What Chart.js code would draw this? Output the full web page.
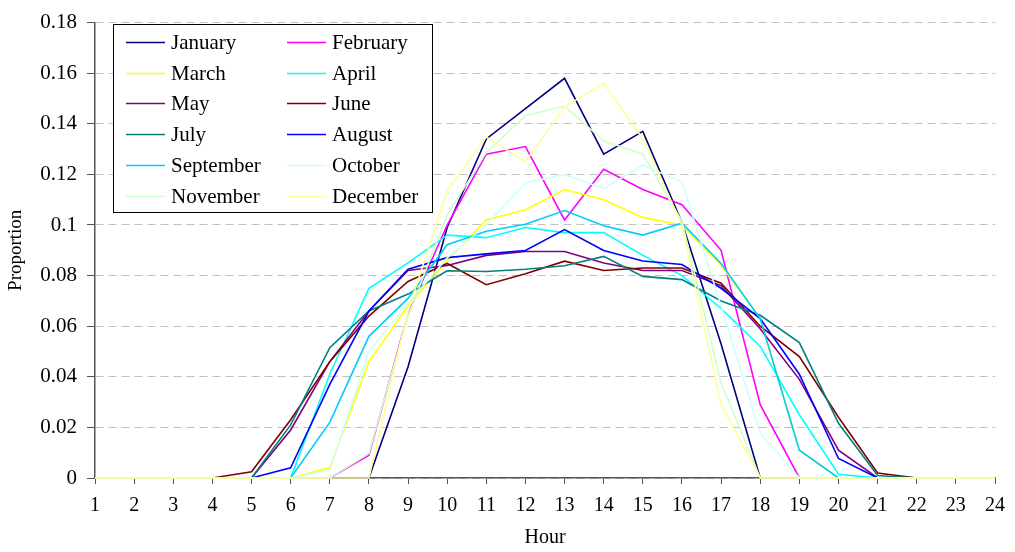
<!DOCTYPE html>
<html>
<head>
<meta charset="utf-8">
<script src="https://cdn.jsdelivr.net/npm/chart.js@4.4.0/dist/chart.umd.min.js"></script>
<style>
  html, body { margin: 0; padding: 0; background: #fff; }
</style>
</head>
<body>
<canvas id="chart" width="1015" height="552"></canvas>
<script>
const hours = ["1","2","3","4","5","6","7","8","9","10","11","12","13","14","15","16","17","18","19","20","21","22","23","24"];
const yTickLabels = ["0","0.02","0.04","0.06","0.08","0.1","0.12","0.14","0.16","0.18"];

const months = ["January","February","March","April","May","June","July","August","September","October","November","December"];
const monthColors = ["#000080","#FF00FF","#FFFF00","#00FFFF","#800080","#800000","#008080","#0000FF","#00CCFF","#CCFFFF","#CCFFCC","#FFFF99"];

const january   = [0,0,0,0,0,0,0,0,0.044,0.099,0.134,0.146,0.158,0.128,0.137,0.101,0.053,0,0,0,0,0,0,0];
const february  = [0,0,0,0,0,0,0,0.009,0.065,0.100,0.128,0.131,0.102,0.122,0.114,0.108,0.090,0.029,0,0,0,0,0,0];
const march     = [0,0,0,0,0,0,0.004,0.046,0.068,0.086,0.102,0.106,0.114,0.110,0.103,0.100,0.084,0.063,0.011,0,0,0,0,0];
const april     = [0,0,0,0,0,0,0.041,0.075,0.085,0.096,0.095,0.099,0.097,0.097,0.088,0.080,0.067,0.052,0.025,0.0015,0,0,0,0];
const may       = [0,0,0,0,0,0.019,0.046,0.066,0.082,0.084,0.088,0.0895,0.0895,0.085,0.082,0.082,0.076,0.059,0.039,0.011,0,0,0,0];
const june      = [0,0,0,0,0.0025,0.023,0.046,0.064,0.0777,0.0848,0.0764,0.0807,0.0857,0.082,0.083,0.083,0.077,0.060,0.048,0.024,0.002,0,0,0];
const july      = [0,0,0,0,0,0.021,0.0515,0.066,0.0727,0.0819,0.0816,0.0825,0.0839,0.0876,0.0797,0.0784,0.070,0.0643,0.0535,0.0216,0.001,0,0,0];
const august    = [0,0,0,0,0,0.004,0.037,0.066,0.0825,0.0871,0.0886,0.0899,0.0982,0.0899,0.0858,0.0844,0.075,0.063,0.041,0.0077,0,0,0,0];
const september = [0,0,0,0,0,0,0.022,0.056,0.071,0.0922,0.0975,0.1003,0.1057,0.0997,0.096,0.1007,0.0848,0.063,0.011,0,0,0,0,0];
const october   = [0,0,0,0,0,0,0.003,0.050,0.069,0.087,0.100,0.1167,0.1199,0.1144,0.1237,0.117,0.068,0.0177,0,0,0,0,0,0];
const november  = [0,0,0,0,0,0,0,0.0097,0.064,0.104,0.1287,0.1432,0.147,0.1333,0.128,0.1015,0.0375,0,0,0,0,0,0,0];
const december  = [0,0,0,0,0,0,0,0,0.066,0.1135,0.1348,0.125,0.1467,0.156,0.134,0.100,0.029,0,0,0,0,0,0,0];

const series = [january, february, march, april, may, june, july, august, september, october, november, december];

const serif = "'Liberation Serif', 'Times New Roman', serif";

// legend box drawn inside the plot, two columns like the original
const boxLegend = {
  id: "boxLegend",
  afterDraw(chart) {
    const ctx = chart.ctx;
    const x0 = 113, y0 = 24, w = 319, h = 188;
    ctx.save();
    ctx.fillStyle = "#ffffff";
    ctx.fillRect(x0, y0, w, h);
    ctx.strokeStyle = "#000000";
    ctx.lineWidth = 1;
    ctx.strokeRect(x0 + 0.5, y0 + 0.5, w, h);
    ctx.font = "21px " + serif;
    ctx.textBaseline = "middle";
    ctx.fillStyle = "#000000";
    chart.data.datasets.forEach((ds, i) => {
      const col = i % 2, row = Math.floor(i / 2);
      const lx = col === 0 ? 126 : 287;
      const ly = Math.round(42 + row * 30.7) + 0.5;
      ctx.strokeStyle = ds.borderColor;
      ctx.lineWidth = 1.5;
      ctx.beginPath();
      ctx.moveTo(lx, ly);
      ctx.lineTo(lx + 39, ly);
      ctx.stroke();
      ctx.fillText(ds.label, lx + 45, ly + 1);
    });
    ctx.restore();
  }
};

const chart = new Chart(document.getElementById("chart"), {
  type: "line",
  data: {
    labels: hours,
    datasets: series.map((vals, i) => ({
      label: months[i],
      data: vals,
      borderColor: monthColors[i],
      backgroundColor: monthColors[i],
      borderWidth: 1.6,
      pointRadius: 0,
      tension: 0,
      fill: false,
      clip: false,
      order: series.length - i,
    })),
  },
  options: {
    responsive: false,
    animation: false,
    events: [],
    layout: { padding: { left: 0, right: 19, top: 8, bottom: 0 } },
    plugins: {
      legend: { display: false },
      tooltip: { enabled: false },
    },
    scales: {
      x: {
        offset: false,
        afterFit(scale) { scale.height = 74; },
        grid: { drawOnChartArea: false, drawTicks: true, tickLength: 6, tickColor: "#555", color: "#555" },
        border: { display: true, color: "#555", width: 1.5 },
        ticks: { color: "#000", font: { family: serif, size: 20 }, padding: 10, maxRotation: 0, autoSkip: false },
        title: { display: true, text: "Hour", color: "#000", font: { family: serif, size: 20 }, padding: { top: 0, bottom: 2 } },
      },
      y: {
        min: 0,
        max: 0.18,
        afterFit(scale) { scale.width = 95; },
        grid: { color: "#C0C0C0", lineWidth: 1, tickLength: 8, tickColor: "#555" },
        border: { display: true, color: "#555", width: 1.5, dash: [8, 5] },
        ticks: {
          stepSize: 0.02,
          color: "#000",
          padding: 10,
          font: { family: serif, size: 21 },
          callback: (v, i) => yTickLabels[i],
        },
        title: { display: true, text: "Proportion", color: "#000", font: { family: serif, size: 19 }, padding: { top: 5, bottom: 0 } },
      },
    },
  },
  plugins: [boxLegend],
});
</script>
</body>
</html>
